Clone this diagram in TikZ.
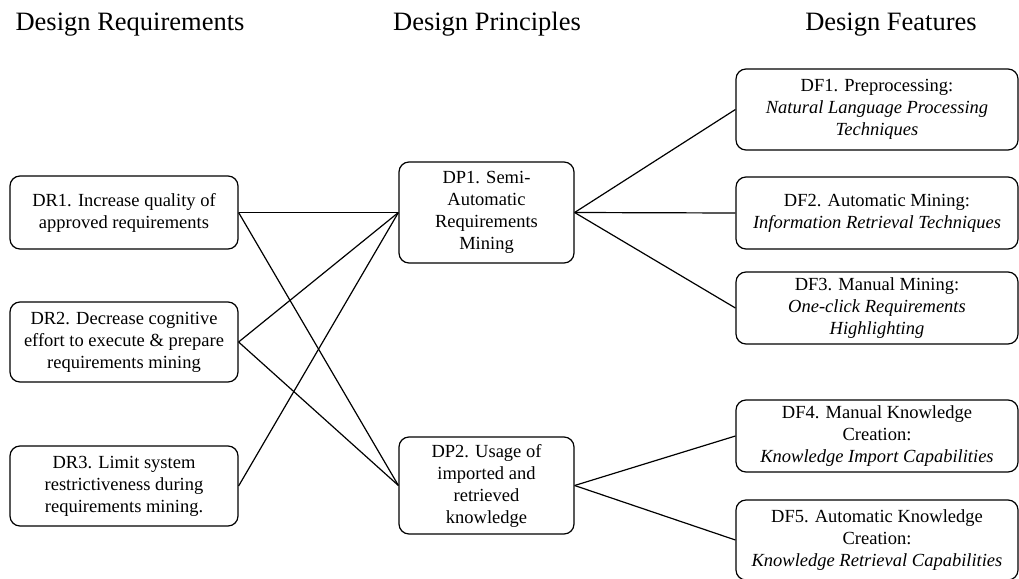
\documentclass[tikz,border=0pt]{standalone}
\usepackage{fontspec}
\setmainfont{Liberation Serif}
\begin{document}
\begin{tikzpicture}[x=1pt,y=-1pt,
  box/.style={draw, rounded corners=10pt, line width=1.2pt, align=center,
    inner sep=0pt, font=\fontsize{18.5}{22}\selectfont,
    execute at begin node={\rule{0pt}{22pt}}},
  drbox/.style={box, minimum width=228pt},
  dpbox/.style={box, minimum width=175pt},
  dfbox/.style={box, minimum width=282pt},
  link/.style={line width=1.2pt},
  head/.style={font=\fontsize{26.5}{30}\selectfont, anchor=base}]
\useasboundingbox (0,0) rectangle (1019,578);
\clip (0,0) rectangle (1019,578);

% column headings
\node[head] (hr) at (130,31) {Design Requirements};
\node[head] (hp) at (487,31) {Design Principles};
\node[head] (hf) at (891,31) {Design Features};

% design requirements
\node[drbox, minimum height=73pt] (dr1) at (124,212.5) {DR1. Increase quality of\\approved requirements};
\node[drbox, minimum height=80pt] (dr2) at (124,342) {DR2. Decrease cognitive\\effort to execute \& prepare\\requirements mining};
\node[drbox, minimum height=80pt] (dr3) at (124,486) {DR3. Limit system\\restrictiveness during\\requirements mining.};

% design principles
\node[dpbox, minimum height=101pt] (dp1) at (486.5,212.5) {DP1. Semi-\\Automatic\\Requirements\\Mining};
\node[dpbox, minimum height=97pt] (dp2) at (486.5,485.5) {DP2. Usage of\\imported and\\retrieved\\knowledge};

% design features
\node[dfbox, minimum height=81pt] (df1) at (877,109.5) {DF1. Preprocessing:\\\textit{Natural Language Processing}\\\textit{Techniques}};
\node[dfbox, minimum height=72pt] (df2) at (877,213) {DF2. Automatic Mining:\\\textit{Information Retrieval Techniques}};
\node[dfbox, minimum height=72pt] (df3) at (877,308) {DF3. Manual Mining:\\\textit{One-click Requirements}\\\textit{Highlighting}};
\node[dfbox, minimum height=72pt] (df4) at (877,436) {DF4. Manual Knowledge\\Creation:\\\textit{Knowledge Import Capabilities}};
\node[dfbox, minimum height=80pt] (df5) at (877,540) {DF5. Automatic Knowledge\\Creation:\\\textit{Knowledge Retrieval Capabilities}};

% requirements to principles
\draw[link] (dr1.east) -- (dp1.west);
\draw[link] (dr1.east) -- (dp2.west);
\draw[link] (dr2.east) -- (dp1.west);
\draw[link] (dr2.east) -- (dp2.west);
\draw[link] (dr3.east) -- (dp1.west);

% principles to features
\draw[link] (dp1.east) -- (df1.west);
\draw[link] (dp1.east) -- (df2.west);
\draw[link] (dp1.east) -- (df3.west);
\draw[link] (dp2.east) -- (df4.west);
\draw[link] (dp2.east) -- (df5.west);
\end{tikzpicture}
\end{document}
